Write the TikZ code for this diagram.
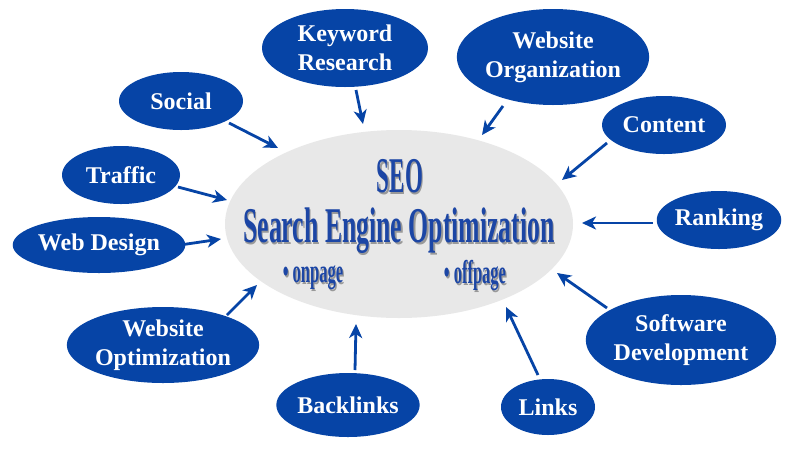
\documentclass[tikz,border=0pt]{standalone}
\usepackage{fontspec}
\setmainfont{Liberation Serif}
\usetikzlibrary{shapes.geometric,arrows.meta}
\definecolor{bblue}{RGB}{6,68,166}
\definecolor{tblue}{RGB}{28,70,165}
\definecolor{egray}{RGB}{232,232,232}
\tikzset{
  bub/.style={ellipse, fill=bblue, inner sep=0pt, text=white,
    font=\fontsize{24}{29}\selectfont\bfseries, align=center},
  arr/.style={draw=bblue, line width=2.8pt,
    -{Stealth[length=14pt,width=13pt,inset=4pt]}},
  bigtxt/.style={inner sep=0pt, text=tblue, anchor=base},
}
% text with a grey drop shadow, in one box
\newcommand{\shadowed}[1]{\makebox[0pt][l]{\hspace{2.5pt}\raisebox{-2.5pt}{\textcolor{black!40}{#1}}}#1}
\newcommand{\seobig}[2]{\scalebox{#1}[1]{\fontsize{50}{50}\selectfont\bfseries\shadowed{#2}}}
\newcommand{\seosmall}[1]{\scalebox{0.5}[1]{\fontsize{33}{33}\selectfont\bfseries\shadowed{#1}}}
\begin{document}
\begin{tikzpicture}[x=1pt,y=-1pt]
\path[use as bounding box, fill=white] (0,0) rectangle (800,448);

% central ellipse
\node[ellipse, fill=egray, inner sep=0pt, minimum width=348pt, minimum height=188pt] (seo) at (399,224) {};

% central texts
\node[bigtxt] (t1) at (400,192) {\seobig{0.46}{SEO}};
\node[bigtxt] (t2) at (399,242) {\seobig{0.515}{Search Engine Optimization}};
\node[bigtxt] (t3) at (313,282) {\seosmall{• onpage}};
\node[bigtxt] (t4) at (475,283) {\seosmall{• offpage}};

% bubbles
\node[bub, minimum width=166pt, minimum height=78pt] (kw)  at (345,48)  {Keyword\\Research};
\node[bub, minimum width=166pt, minimum height=96pt] (wo)  at (553,57)  {Website\\Organization};
\node[bub, minimum width=124pt, minimum height=58pt] (soc) at (181,101) {Social};
\node[bub, minimum width=118pt, minimum height=58pt] (tra) at (121,175) {Traffic};
\node[bub, minimum width=124pt, minimum height=58pt] (con) at (664,125) {Content};
\node[bub, minimum width=124pt, minimum height=58pt] (ran) at (719,220) {Ranking};
\node[bub, minimum width=156pt, minimum height=56pt] (wd)  at (99,245)  {Web Design};
\node[bub, minimum width=178pt, minimum height=76pt] (wop) at (163,345) {Website\\Optimization};
\node[bub, minimum width=126pt, minimum height=64pt] (bl)  at (348,405) {Backlinks};
\node[bub, minimum width=94pt,  minimum height=56pt] (lk)  at (548,407) {Links};
\node[bub, minimum width=182pt, minimum height=90pt] (sd)  at (681,340) {Software\\Development};

% arrow end points
\coordinate (kw-a)  at (356,90);  \coordinate (kw-b)  at (363,124);
\coordinate (wo-a)  at (503,106); \coordinate (wo-b)  at (482,135);
\coordinate (soc-a) at (229,123); \coordinate (soc-b) at (278,148);
\coordinate (con-a) at (607,143); \coordinate (con-b) at (562,180);
\coordinate (tra-a) at (178,187); \coordinate (tra-b) at (227,200);
\coordinate (ran-a) at (653,223); \coordinate (ran-b) at (582,223);
\coordinate (wd-a)  at (180,245); \coordinate (wd-b)  at (221,239);
\coordinate (wop-a) at (227,315); \coordinate (wop-b) at (257,285);
\coordinate (bl-a)  at (355,370); \coordinate (bl-b)  at (356,324);
\coordinate (lk-a)  at (538,375); \coordinate (lk-b)  at (506,307);
\coordinate (sd-a)  at (607,308); \coordinate (sd-b)  at (557,273);

\foreach \n in {kw,wo,soc,con,tra,ran,wd,wop,bl,lk,sd}
  \draw[arr] (\n-a) -- (\n-b);
\end{tikzpicture}
\end{document}
